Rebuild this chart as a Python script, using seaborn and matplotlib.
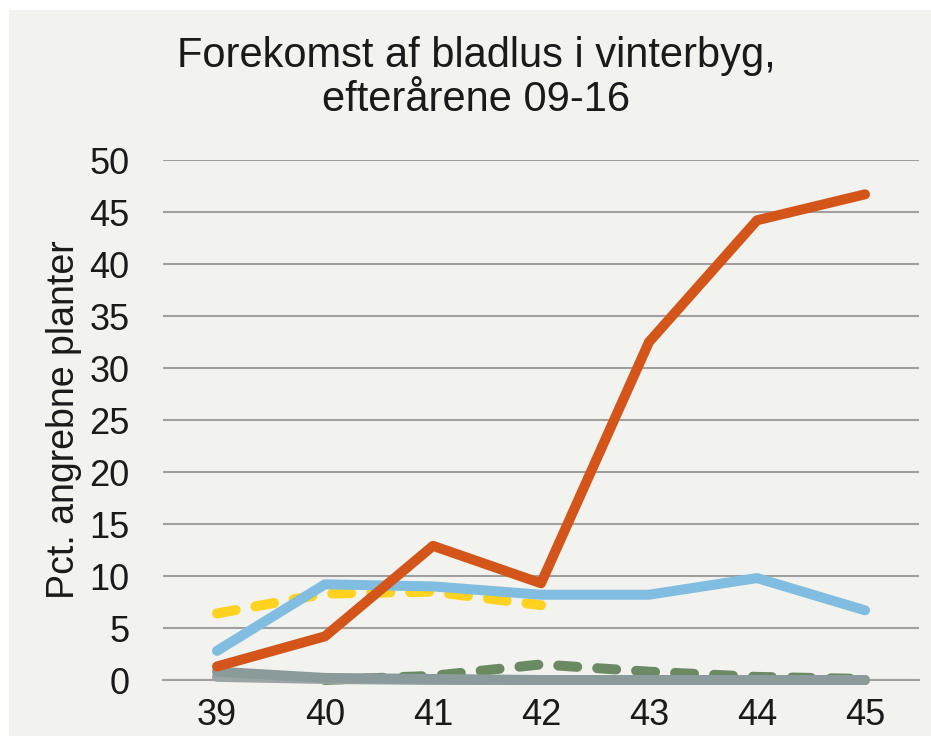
"""Forekomst af bladlus i vinterbyg - line chart recreation."""

import matplotlib
matplotlib.use("Agg")
import matplotlib.pyplot as plt
from matplotlib.patches import Rectangle
import numpy as np
import pandas as pd
import seaborn as sns

# week numbers on the x axis
weeks = [39, 40, 41, 42, 43, 44, 45]

# percent of attacked plants per autumn
orange_vals = [1.3, 4.2, 12.9, 9.3, 32.5, 44.2, 46.7]
blue_vals = [2.8, 9.2, 9.0, 8.2, 8.2, 9.8, 6.7]
yellow_vals = [6.4, 8.3, 8.5, 7.2, None, None, None]
green_vals = [None, 0.0, 0.4, 1.5, 0.8, 0.3, 0.1]
gray_vals = [0.8, 0.2, 0.1, 0.0, 0.0, 0.0, 0.0]
gray2_vals = [0.3, 0.1, 0.0, 0.0, 0.0, 0.0, 0.0]

y_ticks = [0, 5, 10, 15, 20, 25, 30, 35, 40, 45, 50]

BG = "#f2f2ee"

series = [
    ("green", green_vals, "#6b8a64", (1.9, 2.0)),
    ("gray2", gray2_vals, "#9aa5a5", None),
    ("gray", gray_vals, "#8b9a9a", None),
    ("yellow", yellow_vals, "#ffd21f", (1.9, 2.0)),
    ("blue", blue_vals, "#80bde0", None),
    ("orange", orange_vals, "#d4551a", None),
]

sns.set_theme(style="white")
plt.rcParams["font.family"] = ["Liberation Sans", "DejaVu Sans"]

fig = plt.figure(figsize=(9.31, 7.36), dpi=100)
fig.patch.set_facecolor("white")
fig.patches.append(Rectangle((9 / 931, 0), 1, 1 - 10 / 736,
                             transform=fig.transFigure, facecolor=BG,
                             edgecolor="none", zorder=-10))

ax = fig.add_axes([163 / 931, 1 - 680 / 736, (919 - 163) / 931, 520 / 736])
ax.set_facecolor("none")

for name, vals, color, dash in series:
    df = pd.DataFrame({"week": weeks, "pct": vals}).dropna()
    sns.lineplot(data=df, x="week", y="pct", ax=ax, color=color,
                 linewidth=7.2, solid_capstyle="round", zorder=3,
                 clip_on=False)
    ln = ax.lines[-1]
    ln.set_solid_joinstyle("round")
    if dash is not None:
        ln.set_dashes(dash)
        ln.set_dash_capstyle("round")

ax.set_xlim(38.5, 45.5)
ax.set_ylim(0, 50)
ax.set_yticks(y_ticks)
ax.set_xticks(weeks)
ax.set_xticks(np.arange(38.5, 46, 1), minor=True)
ax.yaxis.grid(True, color="#a0a0a0", linewidth=1.5)
ax.set_axisbelow(True)

for side in ["top", "right", "left"]:
    ax.spines[side].set_visible(False)
ax.spines["bottom"].set_color("#a0a0a0")
ax.spines["bottom"].set_linewidth(1.5)
ax.spines["bottom"].set_zorder(1)

ax.tick_params(axis="x", which="major", length=0, labelsize=26, pad=13,
               colors="#1a1a1a")
ax.tick_params(axis="x", which="minor", length=11, width=1.5,
               color="#a0a0a0", direction="out")
ax.tick_params(axis="y", length=0, labelsize=26, pad=24, colors="#1a1a1a")

ax.set_xlabel("")
ax.set_ylabel("Pct. angrebne planter", fontsize=27, color="#1a1a1a",
              labelpad=5)

fig.text(476 / 931, 1 - 78 / 736,
         "Forekomst af bladlus i vinterbyg,\nefterårene 09-16",
         ha="center", va="center", fontsize=30, color="#1a1a1a",
         linespacing=1.1)

fig.savefig("out.png", dpi=100, facecolor=fig.get_facecolor())
